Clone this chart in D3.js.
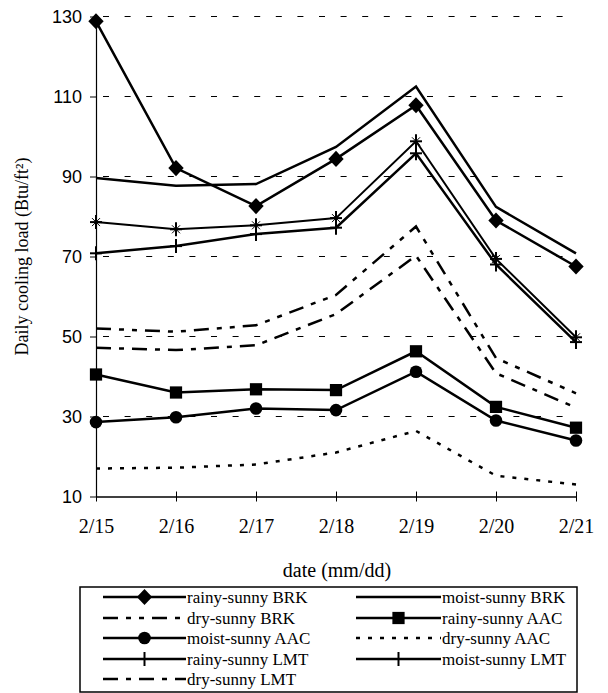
<!DOCTYPE html>
<html>
<head>
<meta charset="utf-8">
<script src="https://cdn.jsdelivr.net/npm/d3@7"></script>
<style>
  html, body { margin: 0; padding: 0; background: #fff; }
  svg { display: block; }
</style>
</head>
<body>
<svg id="chart" width="608" height="693"></svg>
<script>
// Daily cooling load per day for each weather scenario and wall system
const dates = ["2/15", "2/16", "2/17", "2/18", "2/19", "2/20", "2/21"];
const yTicks = [10, 30, 50, 70, 90, 110, 130];

const rainySunnyBRK = [128.8, 92.1, 82.6, 94.4, 107.8, 79.0, 67.5];
const moistSunnyBRK = [89.6, 87.7, 88.1, 97.4, 112.5, 82.4, 70.8];
const drySunnyBRK   = [52.0, 51.2, 52.8, 60.4, 77.5, 44.6, 35.8];
const rainySunnyAAC = [40.5, 36.0, 36.8, 36.6, 46.3, 32.4, 27.2];
const moistSunnyAAC = [28.6, 29.8, 32.0, 31.6, 41.2, 29.0, 24.0];
const drySunnyAAC   = [17.0, 17.2, 18.0, 21.0, 26.4, 15.2, 13.0];
const rainySunnyLMT = [78.6, 76.8, 77.8, 79.6, 98.8, 69.4, 49.8];
const moistSunnyLMT = [70.8, 72.6, 75.6, 77.2, 95.8, 68.0, 48.6];
const drySunnyLMT   = [47.2, 46.6, 47.8, 55.6, 70.2, 40.8, 32.2];

const series = [
  { name: "rainy-sunny BRK", values: rainySunnyBRK, marker: "diamond", dash: null, width: 2.5 },
  { name: "moist-sunny BRK", values: moistSunnyBRK, marker: null, dash: null, width: 2.5 },
  { name: "dry-sunny BRK",   values: drySunnyBRK,   marker: null, dash: "15,8,5,8,5,8", width: 2.5 },
  { name: "rainy-sunny AAC", values: rainySunnyAAC, marker: "square", dash: null, width: 2.5 },
  { name: "moist-sunny AAC", values: moistSunnyAAC, marker: "circle", dash: null, width: 2.5 },
  { name: "dry-sunny AAC",   values: drySunnyAAC,   marker: null, dash: "4,8", width: 2.5 },
  { name: "rainy-sunny LMT", values: rainySunnyLMT, marker: "star", dash: null, width: 2.0 },
  { name: "moist-sunny LMT", values: moistSunnyLMT, marker: "plus", dash: null, width: 2.5 },
  { name: "dry-sunny LMT",   values: drySunnyLMT,   marker: null, dash: "15,8,5,8", width: 2.5 }
];

const svg = d3.select("#chart");
const plot = { left: 96, right: 576, top: 16.5, bottom: 496.5 };

const x = d3.scalePoint().domain(dates).range([plot.left, plot.right]);
const y = d3.scaleLinear().domain([10, 130]).range([plot.bottom, plot.top]);

// dashed horizontal gridlines
svg.append("g")
  .selectAll("line")
  .data(yTicks.filter(d => d > 10))
  .join("line")
  .attr("x1", plot.left + 7).attr("x2", plot.right)
  .attr("y1", d => y(d)).attr("y2", d => y(d))
  .attr("stroke", "#000").attr("stroke-width", 1.1)
  .attr("stroke-dasharray", "6,15.6");

// y axis
const yAxis = svg.append("g")
  .attr("transform", `translate(${plot.left},0)`)
  .call(d3.axisLeft(y).tickValues(yTicks).tickSize(6).tickPadding(8).tickSizeOuter(0));
yAxis.select(".domain").attr("stroke-width", 1.2);
yAxis.selectAll("text")
  .attr("font-family", "'Liberation Sans', Arial, sans-serif")
  .attr("font-size", 18).attr("fill", "#000");

// x axis with ticks crossing the line
const xAxis = svg.append("g")
  .attr("transform", `translate(0,${plot.bottom})`)
  .call(d3.axisBottom(x).tickSize(5).tickPadding(17).tickSizeOuter(0));
xAxis.select(".domain").attr("stroke-width", 1.6);
xAxis.selectAll(".tick line").attr("y1", -5).attr("y2", 5);
xAxis.selectAll("text")
  .attr("font-family", "'Liberation Serif', 'Times New Roman', serif")
  .attr("font-size", 20).attr("fill", "#000");

// axis titles
svg.append("text")
  .attr("x", 337).attr("y", 577)
  .attr("text-anchor", "middle")
  .attr("font-family", "'Liberation Serif', 'Times New Roman', serif")
  .attr("font-size", 20)
  .text("date (mm/dd)");

svg.append("text")
  .attr("transform", `translate(28,${(plot.top + plot.bottom) / 2}) rotate(-90)`)
  .attr("text-anchor", "middle")
  .attr("font-family", "'Liberation Serif', 'Times New Roman', serif")
  .attr("font-size", 18)
  .text("Daily cooling load (Btu/ft²)");

// marker drawing shared by plot and legend
function drawMarker(g, type, cx, cy) {
  if (type === "diamond") {
    g.append("path")
      .attr("d", d3.symbol(d3.symbolDiamond2, 150)())
      .attr("transform", `translate(${cx},${cy}) scale(1,1.05)`)
      .attr("fill", "#000");
  } else if (type === "square") {
    g.append("path")
      .attr("d", d3.symbol(d3.symbolSquare, 150)())
      .attr("transform", `translate(${cx},${cy})`)
      .attr("fill", "#000");
  } else if (type === "circle") {
    g.append("circle").attr("cx", cx).attr("cy", cy).attr("r", 6.3).attr("fill", "#000");
  } else if (type === "plus" || type === "star") {
    g.append("line").attr("x1", cx).attr("x2", cx).attr("y1", cy - 7).attr("y2", cy + 7)
      .attr("stroke", "#000").attr("stroke-width", 2);
    g.append("line").attr("x1", cx - 6).attr("x2", cx + 6).attr("y1", cy).attr("y2", cy)
      .attr("stroke", "#000").attr("stroke-width", 2);
    if (type === "star") {
      g.append("line").attr("x1", cx - 4).attr("x2", cx + 4).attr("y1", cy - 4).attr("y2", cy + 4)
        .attr("stroke", "#000").attr("stroke-width", 1);
      g.append("line").attr("x1", cx - 4).attr("x2", cx + 4).attr("y1", cy + 4).attr("y2", cy - 4)
        .attr("stroke", "#000").attr("stroke-width", 1);
    }
  }
}

const line = d3.line()
  .x((d, i) => x(dates[i]))
  .y(d => y(d));

const lines = svg.append("g");
series.forEach(s => {
  lines.append("path")
    .datum(s.values)
    .attr("d", line)
    .attr("fill", "none")
    .attr("stroke", "#000")
    .attr("stroke-width", s.width)
    .attr("stroke-linejoin", "miter")
    .attr("stroke-dasharray", s.dash);
  if (s.marker) {
    const mg = lines.append("g");
    s.values.forEach((v, i) => drawMarker(mg, s.marker, x(dates[i]), y(v)));
  }
});

// legend
const legend = { x: 80, y: 587, w: 497, h: 105 };
svg.append("rect")
  .attr("x", legend.x).attr("y", legend.y)
  .attr("width", legend.w).attr("height", legend.h)
  .attr("fill", "none").attr("stroke", "#000").attr("stroke-width", 1.5);

const cols = [
  { lineX1: 103, lineX2: 186, textX: 187 },
  { lineX1: 356, lineX2: 441, textX: 442 }
];
const rowY = [597, 618, 638, 659, 679];

series.forEach((s, i) => {
  const c = cols[i % 2];
  const ry = rowY[Math.floor(i / 2)];
  const g = svg.append("g");
  g.append("line")
    .attr("x1", c.lineX1).attr("x2", c.lineX2)
    .attr("y1", ry).attr("y2", ry)
    .attr("stroke", "#000").attr("stroke-width", 2.4)
    .attr("stroke-dasharray", s.dash);
  if (s.marker) drawMarker(g, s.marker === "star" ? "plus" : s.marker, (c.lineX1 + c.lineX2) / 2, ry);
  g.append("text")
    .attr("x", c.textX).attr("y", ry + 5.5)
    .attr("font-family", "'Liberation Serif', 'Times New Roman', serif")
    .attr("font-size", 17)
    .text(s.name);
});
</script>
</body>
</html>
